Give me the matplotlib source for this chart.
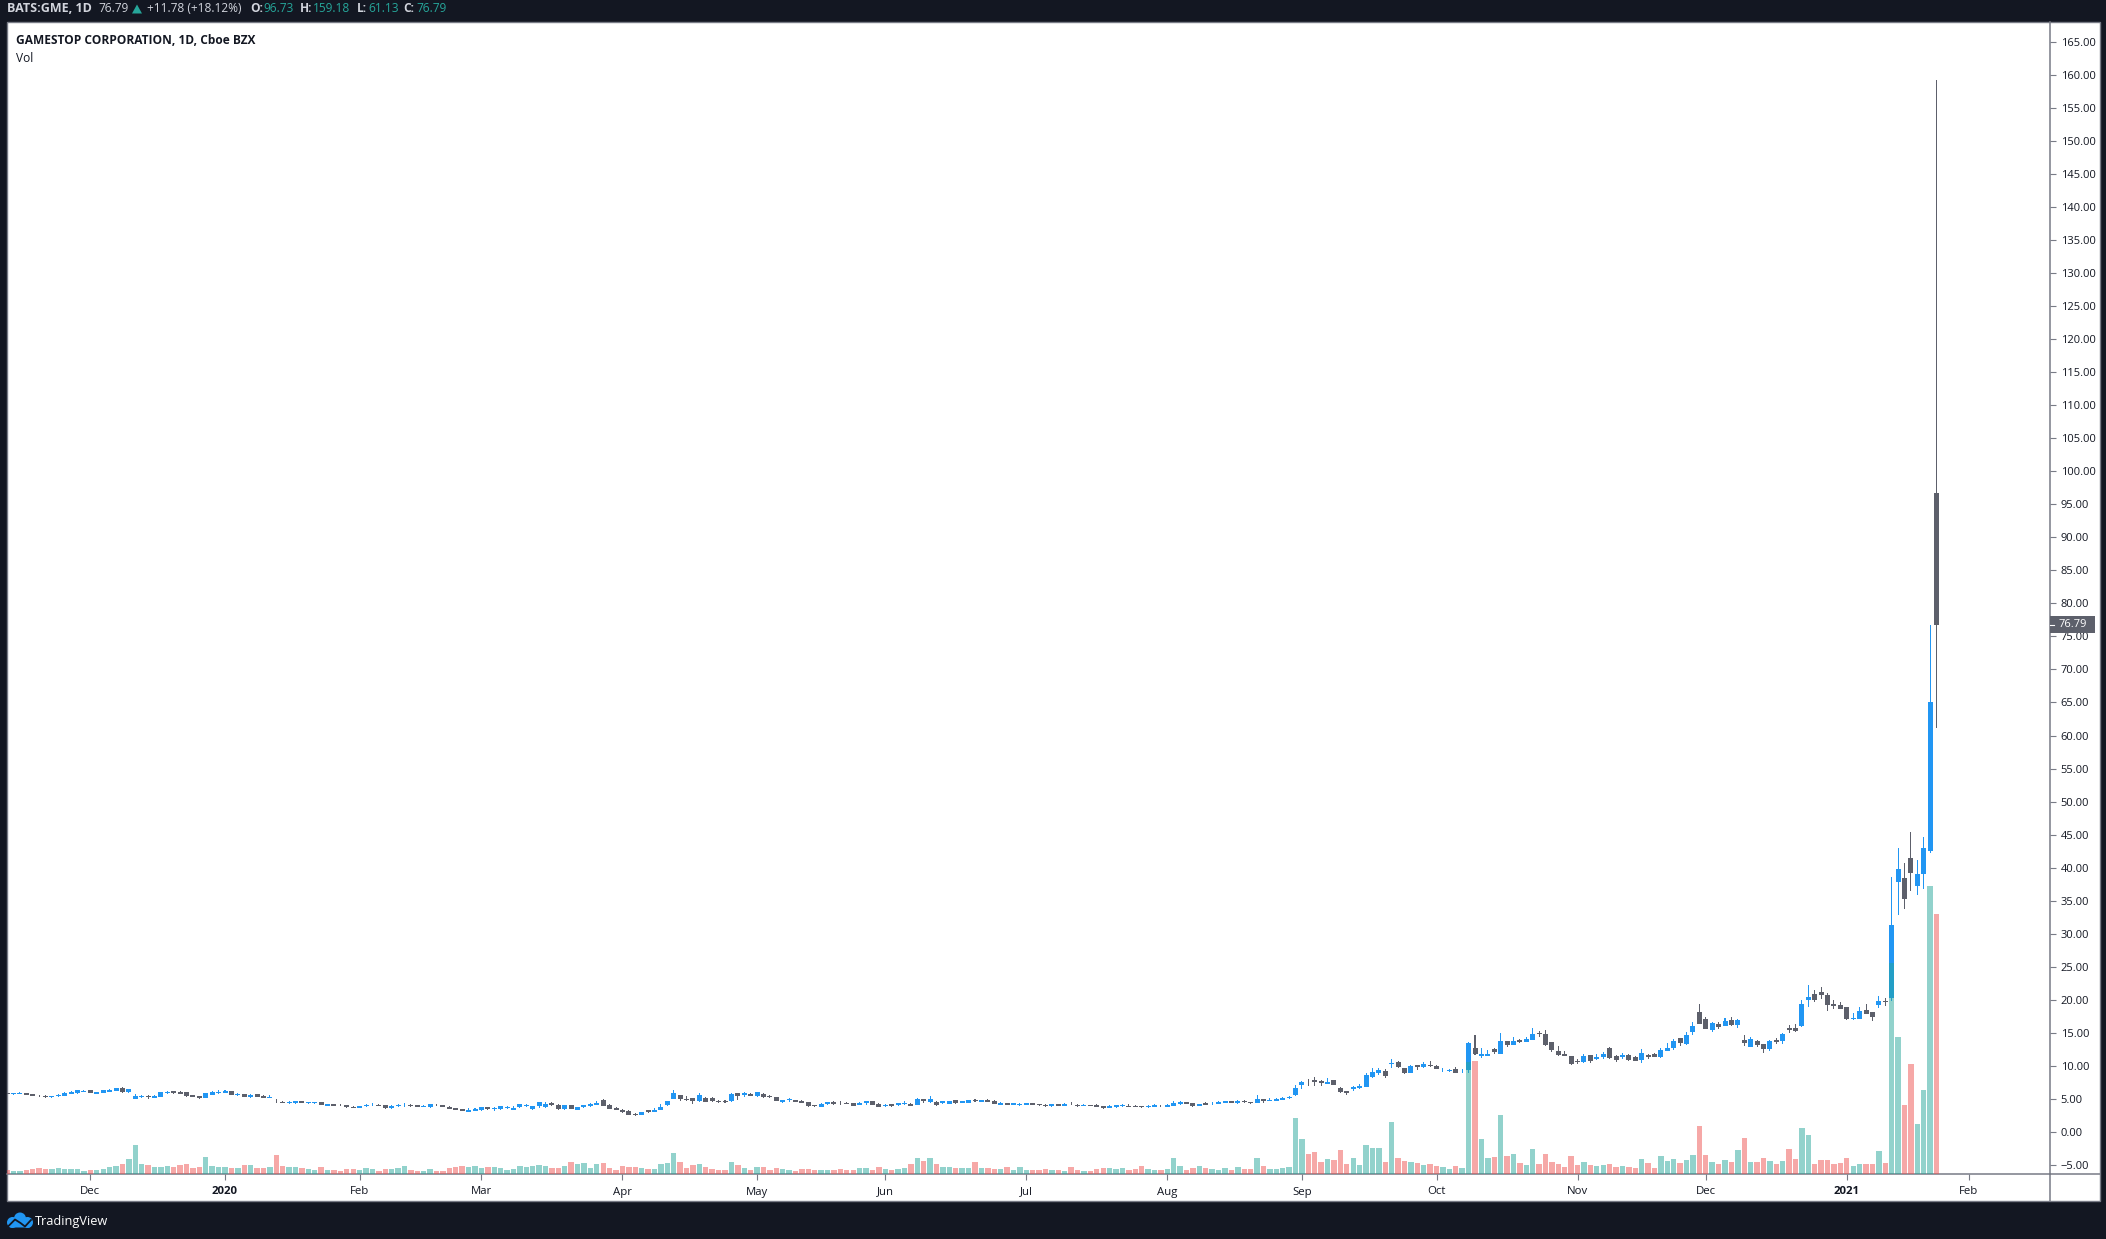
import numpy as np
import matplotlib
matplotlib.use("Agg")
import matplotlib.pyplot as plt
from matplotlib.patches import Rectangle, Circle, FancyBboxPatch

W, H = 2106, 1239

# GME daily bars, first visible bar is 13 sessions before 2 Dec 2019
opens = [
    5.90,5.80,5.80,5.85,5.75,5.50,5.45,5.35,5.50,5.50,
    5.80,5.90,6.10,6.36,5.75,5.90,6.10,6.21,6.66,6.05,
    4.99,5.35,5.45,5.15,5.30,5.95,6.21,6.05,6.05,5.60,
    5.45,5.15,5.60,5.95,5.95,6.21,5.65,5.75,5.35,5.75,
    5.45,5.20,4.74,4.54,4.44,4.39,4.69,4.44,4.44,4.54,
    3.94,4.24,4.14,4.09,3.78,3.63,3.94,4.04,4.14,4.09,
    3.63,3.94,4.04,4.14,4.09,3.83,3.83,4.14,4.09,3.78,
    3.63,3.48,3.08,3.23,3.33,3.78,3.48,3.48,3.63,3.33,
    3.78,3.94,3.48,3.94,3.78,4.39,4.09,3.48,4.09,3.33,
    3.78,3.99,4.14,4.84,4.09,3.63,3.33,3.18,2.72,2.57,
    3.33,3.03,3.33,4.09,4.99,5.60,4.94,5.15,4.69,5.15,
    5.15,4.69,4.69,4.69,5.90,5.60,5.75,5.45,5.75,5.45,
    5.30,4.59,4.79,4.84,4.74,4.54,4.09,3.78,4.24,4.54,
    4.44,4.39,4.39,4.09,4.39,4.69,4.24,3.94,4.24,4.09,
    4.29,4.24,4.09,4.99,4.54,4.54,4.39,4.24,4.84,4.39,
    4.39,4.84,4.54,4.84,4.69,4.09,4.39,4.09,4.14,4.09,
    4.39,4.24,4.09,3.94,4.24,3.94,4.14,4.09,3.99,4.09,
    4.09,3.94,3.63,3.78,3.99,3.94,3.94,3.94,3.83,3.78,
    3.99,3.78,3.94,4.24,4.54,4.39,3.94,4.34,4.34,4.29,
    4.44,4.69,4.44,4.69,4.54,4.39,4.99,4.74,4.69,4.84,
    5.20,5.60,7.11,7.77,7.87,7.72,7.32,7.87,6.66,6.21,
    6.56,6.66,6.81,8.32,8.93,9.23,10.29,10.60,9.69,8.93,
    10.14,9.84,10.14,9.99,9.33,9.28,9.54,9.18,9.38,12.71,
    11.50,11.50,12.56,11.81,13.77,13.17,13.93,13.62,13.93,14.98,
    14.83,13.62,12.26,11.81,11.50,10.75,10.60,11.65,11.05,11.35,
    12.71,11.50,11.35,11.65,11.35,10.90,11.65,11.81,11.35,12.26,
    12.71,14.23,13.32,15.14,18.16,17.10,15.44,16.35,16.04,16.95,
    16.20,13.93,12.87,13.77,13.32,12.56,13.93,13.77,15.74,15.74,
    16.04,19.98,20.89,21.19,20.74,19.37,19.22,18.92,17.10,17.17,
    18.48,18.18,19.24,19.75,20.30,37.88,38.48,41.52,37.27,39.09,42.50,96.73,
]
highs = [
    5.90,5.95,6.05,5.85,5.75,5.65,5.55,5.45,5.80,6.05,
    6.21,6.41,6.36,6.36,6.05,6.36,6.51,6.66,6.81,6.51,
    5.75,5.65,5.65,5.60,6.05,6.21,6.21,6.21,6.05,5.60,
    5.45,5.90,6.21,6.36,6.36,6.21,5.90,5.75,5.75,5.75,
    5.60,5.60,4.99,4.69,4.69,4.69,4.69,4.54,4.54,4.54,
    4.24,4.24,4.24,4.09,3.94,3.94,4.24,4.39,4.24,4.09,
    4.09,4.24,4.39,4.24,4.09,4.14,4.24,4.24,4.09,3.94,
    3.68,3.48,3.63,3.63,3.78,3.78,3.78,3.94,3.94,3.94,
    4.24,4.29,3.94,4.54,4.54,4.54,4.24,4.09,4.09,3.78,
    4.09,4.39,4.69,4.99,4.24,3.78,3.48,3.33,2.93,3.03,
    3.33,3.63,4.24,4.69,6.36,5.60,5.45,5.15,5.90,5.30,
    5.30,4.89,4.84,5.90,5.90,6.05,5.90,6.05,5.90,5.60,
    5.30,4.84,5.15,4.84,4.84,4.54,4.09,4.39,4.54,4.69,
    4.69,4.54,4.39,4.54,4.69,4.69,4.39,4.24,4.24,4.39,
    4.69,4.39,5.15,4.99,5.45,4.69,4.69,4.69,4.84,4.69,
    4.84,4.99,4.84,4.99,4.84,4.54,4.39,4.39,4.39,4.39,
    4.39,4.24,4.24,4.24,4.24,4.39,4.54,4.24,4.24,4.09,
    4.24,3.94,4.09,4.09,4.24,4.24,4.09,3.94,4.09,4.24,
    4.09,4.24,4.69,4.69,4.54,4.39,4.24,4.54,4.59,4.69,
    4.69,4.69,4.84,4.84,4.54,5.60,4.99,5.15,5.15,5.30,
    5.50,7.11,7.72,8.02,8.32,7.87,8.17,7.87,6.81,6.21,
    7.01,7.27,8.93,9.69,9.69,9.54,11.05,10.75,9.69,10.14,
    10.14,10.60,10.75,10.14,9.69,9.54,9.84,9.54,13.62,14.68,
    12.71,12.41,12.71,14.98,13.77,14.38,14.08,14.38,15.74,15.29,
    15.44,13.62,13.02,12.26,11.50,11.05,11.81,11.65,11.81,12.11,
    12.87,11.65,11.96,11.81,11.50,12.56,11.81,11.96,12.71,13.47,
    14.08,14.23,15.14,16.65,19.37,17.41,16.65,16.65,17.26,17.41,
    17.10,14.68,14.38,13.93,13.32,13.93,14.23,14.98,16.20,16.35,
    19.98,22.25,21.49,21.95,21.04,19.98,19.68,18.92,18.01,18.94,
    19.39,18.18,20.60,20.30,38.62,43.03,40.76,45.45,41.21,44.70,76.76,159.18,
]
lows = [
    5.80,5.65,5.70,5.60,5.45,5.30,5.20,5.20,5.35,5.45,
    5.75,5.80,6.05,5.90,5.75,5.90,6.05,6.21,5.90,5.95,
    4.99,5.20,5.05,5.15,5.30,5.80,5.75,5.75,5.35,5.35,
    4.99,5.15,5.60,5.75,5.85,5.60,5.50,5.30,5.20,5.30,
    5.15,5.20,4.39,4.39,4.24,4.24,4.39,4.29,4.24,4.09,
    3.94,3.94,3.94,3.63,3.63,3.63,3.78,3.94,3.94,3.48,
    3.48,3.78,3.83,3.83,3.83,3.83,3.63,3.94,3.83,3.48,
    3.33,3.23,3.03,3.18,3.23,3.33,3.18,3.33,3.48,3.33,
    3.63,3.78,3.33,3.63,3.63,3.94,3.33,3.33,3.48,3.33,
    3.63,3.78,4.09,3.94,3.48,3.28,2.88,2.57,2.42,2.57,
    2.88,3.03,3.33,3.94,4.99,4.69,4.69,4.24,4.54,4.54,
    4.54,4.39,4.39,4.54,4.84,5.30,5.45,5.30,5.15,5.15,
    4.69,4.39,4.54,4.59,4.34,3.78,3.78,3.78,4.09,4.09,
    4.09,4.24,3.94,4.09,4.09,4.09,3.78,3.78,3.78,3.94,
    4.09,3.94,4.09,4.39,4.39,3.94,4.24,4.24,4.24,4.39,
    4.39,4.54,4.54,4.54,4.24,4.09,4.09,4.09,3.94,4.09,
    4.09,3.94,3.78,3.78,3.94,3.94,4.04,3.78,3.94,3.99,
    3.78,3.48,3.63,3.63,3.78,3.78,3.78,3.63,3.63,3.78,
    3.78,3.78,3.94,4.09,4.24,3.78,3.94,4.09,4.09,4.24,
    4.44,4.39,4.24,4.39,4.24,4.39,4.39,4.69,4.69,4.84,
    4.99,5.45,6.51,6.96,6.96,6.96,7.27,7.11,5.90,5.60,
    6.21,6.51,6.81,8.17,8.63,8.17,9.69,9.69,8.78,8.93,
    9.38,9.69,9.84,9.54,9.08,9.08,8.93,8.93,8.93,11.65,
    11.20,11.50,11.81,11.81,12.87,13.17,13.47,13.62,13.93,14.38,
    13.02,12.11,11.50,11.50,10.14,10.29,10.44,10.44,10.90,11.05,
    11.05,10.60,11.05,10.75,10.75,10.44,11.05,11.35,11.20,12.26,
    12.41,13.02,13.17,14.68,16.35,15.59,15.14,15.59,16.04,16.04,
    15.74,13.02,12.87,12.87,11.96,12.26,13.32,13.32,14.98,15.14,
    15.89,18.92,19.68,20.13,18.32,18.62,18.62,16.95,16.95,17.12,
    17.88,16.82,18.79,19.09,19.85,32.88,33.79,36.52,35.91,36.82,42.20,61.13,
]
closes = [
    5.80,5.90,5.90,5.60,5.45,5.40,5.35,5.45,5.65,5.90,
    6.10,6.36,6.21,5.95,6.05,6.36,6.41,6.66,6.05,6.51,
    5.50,5.50,5.35,5.45,6.05,6.05,5.95,5.80,5.50,5.35,
    5.15,5.90,6.05,6.10,6.21,5.60,5.75,5.30,5.60,5.30,
    5.20,5.30,4.64,4.44,4.54,4.69,4.39,4.54,4.54,4.09,
    4.24,3.94,4.04,3.78,3.68,3.94,4.04,4.14,3.99,3.63,
    3.94,4.09,4.14,3.99,3.83,3.99,4.19,4.04,3.83,3.53,
    3.38,3.23,3.38,3.48,3.78,3.48,3.58,3.94,3.83,3.63,
    4.24,4.14,3.94,4.54,4.24,4.09,3.48,4.09,3.48,3.78,
    4.09,4.19,4.39,3.94,3.48,3.33,3.03,2.57,2.62,3.03,
    3.03,3.38,3.78,4.69,5.90,4.99,4.84,4.69,5.60,4.54,
    4.69,4.59,4.59,5.75,5.45,5.85,5.45,6.05,5.30,5.25,
    4.69,4.84,4.94,4.59,4.44,3.94,3.94,4.24,4.54,4.24,
    4.34,4.24,3.94,4.39,4.69,4.09,3.78,4.09,3.94,4.39,
    4.39,3.94,4.99,4.69,4.99,4.09,4.69,4.69,4.39,4.69,
    4.84,4.74,4.84,4.54,4.24,4.39,4.09,4.39,4.24,4.39,
    4.09,4.14,3.99,4.24,3.94,4.24,4.04,3.99,4.09,3.99,
    3.78,3.63,3.94,4.09,4.09,3.83,3.83,3.83,3.94,4.09,
    3.89,4.09,4.39,4.54,4.24,3.94,4.24,4.14,4.44,4.59,
    4.69,4.39,4.74,4.59,4.44,4.99,4.69,4.84,4.99,5.15,
    5.35,6.66,7.57,7.67,7.62,7.47,7.57,7.11,6.05,5.90,
    6.86,6.96,8.63,9.08,9.38,8.48,10.44,9.84,8.93,9.99,
    9.89,10.29,10.04,9.54,9.43,9.38,8.93,9.28,13.47,11.81,
    11.81,11.81,12.11,13.77,13.17,13.77,13.62,14.08,14.83,14.88,
    13.17,12.41,11.65,11.50,10.29,10.65,11.50,10.75,11.35,11.81,
    11.20,10.90,11.65,10.90,10.75,11.96,11.35,11.35,12.41,12.71,
    13.77,13.47,14.68,16.04,16.35,15.59,16.50,15.89,16.80,16.20,
    16.95,13.47,14.08,13.17,12.56,13.77,13.62,14.83,15.44,15.29,
    19.37,20.43,19.98,20.74,19.22,19.07,18.62,17.10,17.20,18.33,
    17.88,17.42,19.85,19.70,31.40,39.85,35.30,39.24,39.09,43.03,65.01,76.79,
]
# volume in millions of shares
volumes = [
    2.7,2.1,2.1,2.7,3.4,4.1,3.4,3.4,4.1,3.4,
    3.4,3.4,2.1,2.7,2.7,3.4,4.8,5.5,6.8,10.3,
    19.8,6.8,6.2,4.8,4.8,5.5,4.8,6.2,6.8,4.1,
    4.8,11.6,5.5,4.8,4.8,4.1,4.1,6.2,6.2,4.1,
    4.1,4.8,13.0,5.5,4.8,4.8,4.1,3.4,2.7,4.8,
    2.7,2.7,2.1,3.4,3.4,2.7,4.1,3.4,2.1,3.4,
    3.4,4.1,5.5,2.7,2.1,2.1,3.4,2.1,2.1,4.1,
    4.8,5.5,4.8,5.5,4.1,4.8,4.8,4.1,2.7,3.4,
    5.5,4.8,5.5,6.2,5.5,4.1,4.1,5.5,8.2,6.8,
    7.5,4.1,6.8,7.5,4.1,2.7,5.5,4.8,4.8,4.1,
    3.4,3.4,6.8,7.5,14.4,8.2,4.1,6.2,6.8,4.8,
    3.4,2.7,2.7,8.2,6.2,4.1,2.7,4.8,4.8,2.7,
    4.1,3.4,2.7,2.1,3.4,3.4,2.7,2.7,2.7,2.7,
    3.4,2.7,2.7,4.1,4.1,2.7,4.8,3.4,2.7,3.4,
    4.1,6.8,10.9,8.9,10.9,6.8,4.8,4.8,4.1,4.1,
    4.1,8.2,4.1,4.1,3.4,3.4,4.8,2.7,4.8,2.7,
    2.7,2.7,3.4,2.7,2.7,2.1,4.8,2.7,2.1,2.1,
    3.4,4.1,4.1,3.4,4.1,2.7,3.4,5.5,3.4,2.7,
    2.7,3.4,10.9,5.5,2.7,4.1,5.5,4.1,3.4,2.7,
    4.1,2.7,4.8,3.4,3.4,10.9,5.5,3.4,3.4,4.1,
    4.8,38.3,23.9,13.7,15.0,8.2,10.3,9.6,16.4,6.8,
    10.9,6.2,19.8,17.8,17.8,8.2,35.6,10.9,8.9,8.2,
    7.5,6.2,6.8,5.5,4.8,3.4,5.5,4.1,76.6,77.3,
    23.9,10.9,11.6,40.4,12.3,13.7,7.5,6.2,17.1,6.8,
    13.7,8.2,6.8,4.8,12.3,6.2,8.2,6.2,5.5,6.2,
    6.8,4.8,5.5,4.8,4.1,10.3,7.5,4.1,12.3,8.9,
    10.3,7.5,9.6,13.0,32.8,13.0,8.2,6.8,9.6,8.2,
    16.4,24.6,8.2,8.2,10.9,8.9,6.8,8.9,17.1,10.3,
    31.5,26.7,6.8,9.6,9.6,6.8,7.5,10.9,5.5,6.8,
    6.8,6.8,15.7,7.5,144.3,93.7,47.2,75.2,34.2,57.5,197.0,177.9,
]

first_bar = -13
month_ticks = [0, 21, 42, 61, 83, 104, 124, 146, 168, 189, 210, 232, 252, 274, 293]
month_labels = ["Dec", "2020", "Feb", "Mar", "Apr", "May", "Jun", "Jul", "Aug",
                "Sep", "Oct", "Nov", "Dec", "2021", "Feb"]
price_ticks = list(range(-5, 170, 5))
last_price = 76.79

DARK = "#131722"
AXIS = "#787b86"
UP = "#2196f3"
DOWN = "#5d606b"
TEAL = "#26a69a"
RED = "#ef5350"
FONT = "Open Sans"

plt.rcParams["font.family"] = [FONT, "DejaVu Sans"]

fig = plt.figure(figsize=(W / 100, H / 100), dpi=100, facecolor=DARK)

# pixel canvas behind the chart, holds pane, header and logo
bg = fig.add_axes([0, 0, 1, 1], zorder=-1)
bg.set_xlim(0, W)
bg.set_ylim(H, 0)
bg.axis("off")
bg.add_patch(Rectangle((7, 22), 2093, 1179, fc="white", ec=AXIS, lw=1.0))
bg.plot([2050, 2050], [1174, 1201], color=AXIS, lw=1.1)
bg.plot([2050, 2100], [1174, 1174], color=AXIS, lw=1.1)

# chart area, bar index on x and price on y
ax = fig.add_axes([7 / W, (H - 1174) / H, 2043 / W, 1152 / H])
ax.patch.set_alpha(0)

x = np.arange(len(closes)) + first_bar
o = np.array(opens)
c = np.array(closes)
hi = np.array(highs)
lo = np.array(lows)
is_up = c >= o
candle_colors = np.where(is_up, UP, DOWN)

# wicks as thin bars so they snap to one pixel
ax.bar(x, hi - lo, bottom=lo, width=0.16, color=candle_colors, lw=0, zorder=2)
ax.bar(x, np.abs(c - o), bottom=np.minimum(o, c), width=0.78,
       color=candle_colors, lw=0, zorder=3)

# volume pane shares the x axis, sits on top of the candles
ax_vol = ax.twinx()
ax_vol.patch.set_alpha(0)
vol_colors = np.where(is_up, TEAL, RED)
ax_vol.bar(x, volumes, width=0.84, color=vol_colors, alpha=0.5, lw=0)
ax_vol.set_ylim(0, 788)
ax_vol.set_yticks([])
for s in ax_vol.spines.values():
    s.set_visible(False)

ax.set_xlim(-13.01, 305.7)
ax.set_ylim(-6.356, 167.98)

for s in ["top", "left"]:
    ax.spines[s].set_visible(False)
for s in ["right", "bottom"]:
    ax.spines[s].set_color(AXIS)
    ax.spines[s].set_linewidth(1.1)

ax.yaxis.tick_right()
ax.set_yticks(price_ticks)
ax.set_yticklabels([("\u2212%.2f" % abs(p)) if p < 0 else "%.2f" % p for p in price_ticks])
ax.set_xticks(month_ticks)
ax.set_xticklabels(month_labels)
ax.tick_params(axis="y", length=4, width=0.8, color=AXIS, labelsize=8.0,
               labelcolor=DARK, pad=3.6)
ax.tick_params(axis="x", length=4, width=0.8, color=AXIS, labelsize=8.2,
               labelcolor=DARK, pad=5)
for lab in ax.get_xticklabels():
    if lab.get_text() in ("2020", "2021"):
        lab.set_fontweight("bold")

# last price tag on the axis
trans = ax.get_yaxis_transform()
ax.add_patch(Rectangle((1, last_price - 1.25), 45 / 2043, 2.5, transform=trans,
                       fc=DOWN, ec="none", clip_on=False, zorder=5))
ax.plot([1, 1 + 4 / 2043], [last_price, last_price], transform=trans, color="white",
        lw=0.8, clip_on=False, zorder=6)
ax.text(1 + 9 / 2043, last_price, "%.2f" % last_price, transform=trans, color="white",
        fontsize=8.0, va="center", ha="left", clip_on=False, zorder=6)

# top status line
HEAD = "#d1d4dc"
head_y = 9
head_parts = [
    (7, "BATS:GME, 1D", HEAD, "bold", 9.0),
    (98, "76.79", HEAD, "normal", 8.6),
    (147, "+11.78 (+18.12%)", HEAD, "normal", 8.6),
    (250, "O:", HEAD, "bold", 8.6),
    (263, "96.73", TEAL, "normal", 8.6),
    (300, "H:", HEAD, "bold", 8.6),
    (313, "159.18", TEAL, "normal", 8.6),
    (357, "L:", HEAD, "bold", 8.6),
    (368, "61.13", TEAL, "normal", 8.6),
    (403, "C:", HEAD, "bold", 8.6),
    (416, "76.79", TEAL, "normal", 8.6),
]
for px, txt, col, wt, sz in head_parts:
    bg.text(px, head_y, txt, color=col, fontweight=wt, fontsize=sz, va="center", ha="left")
bg.fill([132, 142, 137], [13.5, 13.5, 4.5], color=TEAL, lw=0)

bg.text(16, 40, "GAMESTOP CORPORATION, 1D, Cboe BZX", color=DARK, fontweight="bold",
        fontsize=8.6, va="center", ha="left")
bg.text(16, 58, "Vol", color=DARK, fontsize=8.6, va="center", ha="left")

# TradingView logo
for cx, cy, r in [(12.5, 1222.5, 5.5), (20, 1218.5, 6), (27.5, 1222.5, 5.5)]:
    bg.add_patch(Circle((cx, cy), r, fc=UP, ec="none"))
bg.add_patch(FancyBboxPatch((9, 1222), 22, 5.5, boxstyle="round,pad=0,rounding_size=2",
                            fc=UP, ec="none"))
bg.plot([8.5, 15, 20.5, 25, 31], [1226, 1219.5, 1223, 1226.5, 1220], color=DARK, lw=1.3)
bg.text(35, 1221, "TradingView", color="white", fontsize=9.2, va="center", ha="left")

fig.savefig("out.png", dpi=100, facecolor=DARK)
